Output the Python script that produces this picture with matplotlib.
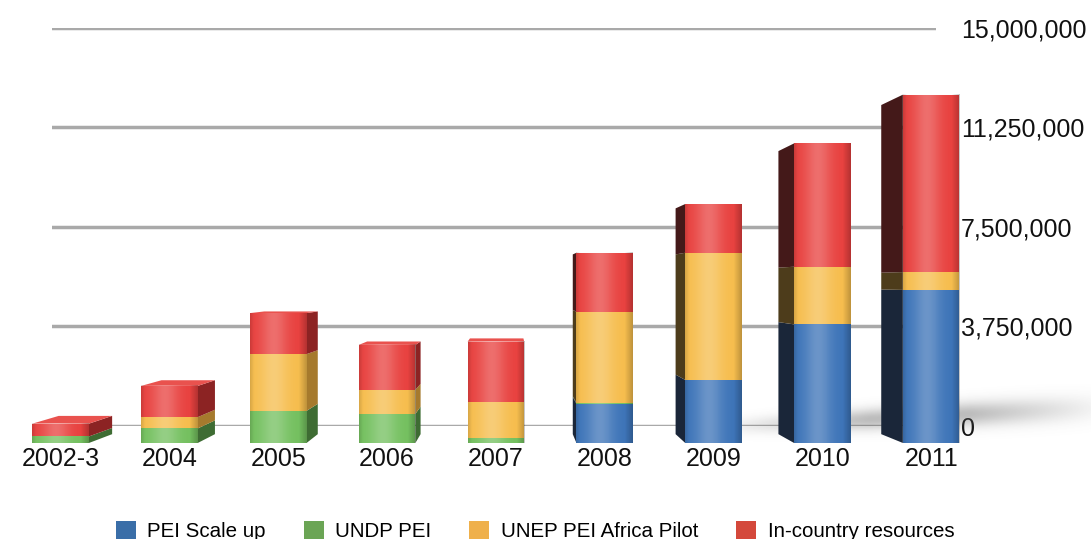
import numpy as np
import matplotlib
matplotlib.use('Agg')
import matplotlib.pyplot as plt
from matplotlib.patches import Polygon, Patch
from matplotlib.transforms import Affine2D


years = ['2002-3', '2004', '2005', '2006', '2007', '2008', '2009', '2010', '2011']

# US$, stacked bottom -> top
pei_scale_up = [0, 0, 0, 0, 0, 1320000, 2120000, 3990000, 5150000]
undp_pei = [220000, 490000, 1080000, 980000, 180000, 30000, 0, 0, 0]
unep_africa = [0, 380000, 1910000, 810000, 1190000, 3070000, 4280000, 1940000, 600000]
in_country = [430000, 1050000, 1380000, 1510000, 2040000, 1980000, 1640000, 4150000, 5970000]

series_names = ['PEI Scale up', 'UNDP PEI', 'UNEP PEI Africa Pilot', 'In-country resources']
y_ticks = [0, 3750000, 7500000, 11250000, 15000000]

front_cols = ['#3D74B8', '#74C05F', '#F6BD4D', '#E8413F']
side_mid = ['#28446B', '#3E6C33', '#A67A2D', '#8C2323']   # right side of left-hand bars
side_dark = ['#1A2639', '#1F351A', '#4D3C1B', '#441919']  # left side of right-hand bars
top_cols = ['#5A8BC8', '#8ACF76', '#F8CD6E', '#E9524E']
legend_cols = ['#3A6EA8', '#6BA555', '#EFB04B', '#D4483B']

W, H = 1091, 539
plt.rcParams['font.family'] = ['Liberation Sans', 'DejaVu Sans']
fig = plt.figure(figsize=(W / 100, H / 100), dpi=100)
ax = fig.add_axes([52 / W, 1 - 426 / H, (936 - 52) / W, (426 - 27.5) / H])
ax.set_autoscale_on(False)
ax.set_xlim(-0.579, 8.509)
ax.set_ylim(0, 15000000)
for s in ax.spines.values():
    s.set_visible(False)
ax.yaxis.tick_right()
ax.set_yticks(y_ticks)
ax.set_yticklabels([f'{v:,}' for v in y_ticks])
ax.tick_params(axis='y', length=0, pad=18, labelsize=18, labelcolor='#111111')
ax.set_xticks([])
ax.grid(axis='y', color='#A9A9A9', linewidth=2.5)
ax.set_axisbelow(True)

# fake 3d: gridlines sit on the back wall, bars are scaled towards the viewer
vx, vy = 510 / W, 1 - 283 / H


def persp(k):
    return (ax.transData + fig.transFigure.inverted()
            + Affine2D().translate(-vx, -vy).scale(k).translate(vx, vy)
            + fig.transFigure)


front = persp(1.1186)
back = persp(1.1186 * 0.945)
to_fig = fig.transFigure.inverted()
vp_disp = fig.transFigure.transform((vx, vy))


def face(pts_front, pts_back, color, z):
    pts = np.vstack([front.transform(pts_front), back.transform(pts_back)[::-1]])
    ax.add_patch(Polygon(to_fig.transform(pts), closed=True, facecolor=color,
                         edgecolor='none', transform=fig.transFigure,
                         clip_on=False, zorder=z))


# floor shadow to the right of the tall bars
sx0, sx1, sy0, sy1 = 700, 1091, 380, 455
px = np.linspace(sx0, sx1, 300)
py = np.linspace(sy0, sy1, 90)
PX, PY = np.meshgrid(px, py)
t = (PX - sx0) / (sx1 - sx0)
yc = 428 - 20 * t
sig = 8 + 6 * t
fade = np.clip((PX - sx0) / 170, 0, 1) * np.clip(1 - (PX - 970) / 150, 0.12, 1)
alpha = 0.42 * np.exp(-((PY - yc) / sig) ** 2) * fade
shadow = np.zeros(PX.shape + (4,))
shadow[..., :3] = 0.38
shadow[..., 3] = alpha
ax.imshow(shadow, extent=[sx0 / W, sx1 / W, 1 - sy1 / H, 1 - sy0 / H],
          transform=fig.transFigure, aspect='auto', clip_on=False, zorder=1.5,
          interpolation='bilinear')

x = np.arange(len(years))
bw = 0.52
bottom = np.zeros(len(years))
series = [pei_scale_up, undp_pei, unep_africa, in_country]
top_idx = np.zeros(len(years), dtype=int)

for si, vals in enumerate(series):
    vals = np.array(vals, dtype=float)
    bars = ax.bar(x, vals, width=bw, bottom=bottom, color=front_cols[si],
                  linewidth=0, transform=front, clip_on=False, zorder=4)
    for i, rect in enumerate(bars):
        if vals[i] <= 0:
            continue
        top_idx[i] = si
        x0, y0 = rect.get_x(), rect.get_y()
        x1, y1 = x0 + rect.get_width(), y0 + rect.get_height()
        if front.transform((x1, y0))[0] < vp_disp[0]:
            edge = [(x1, y0), (x1, y1)]
            face(edge, edge, side_mid[si], 3)
        if front.transform((x0, y0))[0] > vp_disp[0]:
            edge = [(x0, y0), (x0, y1)]
            face(edge, edge, side_dark[si], 3)
    bottom += vals

# top faces where the camera looks down on the bar
for i in range(len(years)):
    x0, x1, top = x[i] - bw / 2, x[i] + bw / 2, bottom[i]
    if front.transform((x0, top))[1] < vp_disp[1]:
        edge = [(x0, top), (x1, top)]
        face(edge, edge, top_cols[top_idx[i]], 3.5)

# soft cylinder shading on the front faces
u = np.linspace(0, 1, 64)
hi = 0.24 * np.exp(-((u - 0.42) / 0.24) ** 2)
dk = 0.22 * np.clip((u - 0.86) / 0.14, 0, 1) + 0.12 * np.clip((0.07 - u) / 0.07, 0, 1)
shade = np.zeros((1, 64, 4))
shade[0, :, :3] = (hi / (hi + dk + 1e-9))[:, None]
shade[0, :, 3] = hi + dk
for i in range(len(years)):
    ax.imshow(shade, extent=[x[i] - bw / 2, x[i] + bw / 2, 0, bottom[i]],
              transform=front, aspect='auto', clip_on=False, zorder=5,
              interpolation='bilinear')

for i, lab in enumerate(years):
    ax.annotate(lab, xy=(x[i], 0), xycoords=front, xytext=(0, -11.5),
                textcoords='offset points', ha='center', va='center',
                fontsize=18, color='#111111', annotation_clip=False)

handles = [Patch(facecolor=c, label=n) for c, n in zip(legend_cols, series_names)]
fig.legend(handles=handles, loc='center', bbox_to_anchor=(535 / W, 1 - 531 / H),
           ncol=4, frameon=False, fontsize=14.8, handlelength=0.98, handleheight=0.98,
           handletextpad=0.55, columnspacing=1.85, borderaxespad=0, borderpad=0)

fig.savefig('out.png', dpi=100)
